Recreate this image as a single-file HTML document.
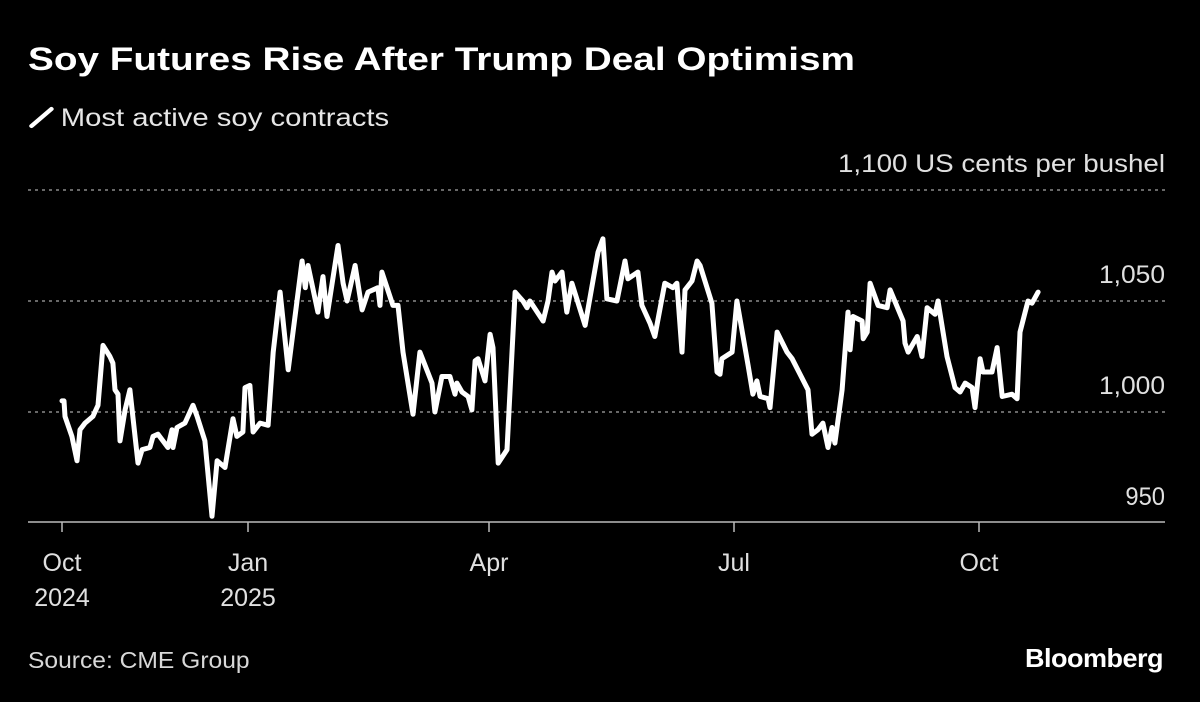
<!DOCTYPE html>
<html><head><meta charset="utf-8">
<style>
html,body{margin:0;padding:0;background:#000;}
body{width:1200px;height:702px;overflow:hidden;position:relative;font-family:"Liberation Sans","DejaVu Sans",sans-serif;color:#fff;}
.t{position:absolute;white-space:nowrap;transform-origin:0 0;}
</style></head><body>
<div class="t" style="left:28px;top:41px;font-size:32px;font-weight:bold;transform:scaleX(1.21);">Soy Futures Rise After Trump Deal Optimism</div>
<div class="t" style="left:28px;top:104px;font-size:25px;color:#e6e6e6;transform:scaleX(1.17);">
<svg width="24" height="26" style="vertical-align:-4px;margin-right:4px"><line x1="3" y1="22" x2="20" y2="5" stroke="#fff" stroke-width="4" stroke-linecap="round"/></svg>Most active soy contracts</div>
<svg id="chart" width="1200" height="702" style="position:absolute;left:0;top:0"></svg>
<div class="t" style="left:28px;top:647px;font-size:23px;color:#d8d8d8;transform:scaleX(1.07);">Source: CME Group</div>
<div class="t" style="left:1025px;top:643px;font-size:26px;font-weight:bold;letter-spacing:-0.5px;transform:scaleX(1.04);">Bloomberg</div>
<script>
const dayOffsets=[0,1,1.5,4.9,7.4,8.9,11.4,15.3,17.8,20.3,23.7,25.2,26.2,27.7,28.7,31.2,33.6,37.6,39.6,43.5,45,47.5,52.4,54.4,54.9,56.9,60.8,64.8,66.8,70.7,74.2,76.7,80.6,84.6,86.5,89.5,90.5,92.7,93.9,96.5,99.5,101.4,104,107,112.2,113.4,114.4,118.1,120,121.5,125.6,127.5,129,132,134.6,136.8,140.5,141.3,142,146.1,148,149.9,153.6,156.2,160.7,161.8,164.4,167.4,169.3,170,171.9,174.2,175.6,176.8,177.9,180.5,182.4,183.5,185.4,188.7,191.7,194.6,196.1,197.2,202.1,203.9,205.4,206.5,209.1,210.9,212.8,217.7,222.5,224.3,225.8,229.5,232.5,233.6,237.3,238.8,241.8,243.6,247.3,250.3,251.8,253.7,254.8,257.4,259.3,260.4,264.8,266.7,267.8,268.5,272.3,274.1,278.3,280.1,281.6,282.8,285.8,286.5,289.2,292.9,294.8,300.8,302.3,304.5,306.4,308.3,309.8,310.9,313.6,315.8,316.6,317.7,321.1,321.5,323,324.1,327.1,330.5,331.6,336.5,337.2,338.4,341.8,343.6,345.5,348.5,349.6,353,356,357.9,359.8,362.4,363.5,365.4,366.5,369.9,371.8,373.7,377.4,379.3,380.4,383.4,384.9,387.2];
const prices=[1005,1005,998,989,978,992,995,998,1003,1030,1025,1022,1010,1008,987,1001,1010,977,983,984,989,990,984,992,984,993,995,1003,998,987,953,978,975,997,989,991,1011,1012,991,995,994,1027,1054,1019,1068,1056,1066,1045,1061,1043,1075,1058,1050,1066,1046,1054,1056,1048,1063,1048,1048,1027,999,1027,1013,1000,1016,1016,1008,1013,1009,1007,1001,1023,1024,1014,1035,1029,977,983,1054,1050,1047,1050,1041,1050,1063,1059,1063,1045,1058,1039,1072,1078,1051,1050,1068,1060,1063,1048,1040,1034,1058,1056,1058,1027,1055,1059,1068,1066,1049,1018,1017,1024,1027,1050,1021,1008,1014,1007,1006,1002,1036,1027,1024,1010,990,992,995,984,993,986,1010,1045,1028,1043,1041,1033,1036,1058,1048,1047,1055,1041,1031,1027,1034,1025,1047,1044,1050,1025,1011,1009,1013,1011,1002,1024,1018,1018,1029,1007,1008,1006,1036,1050,1049,1054];
const tickDays=[0,92,182,273,365];
const tickMonths=["Oct","Jan","Apr","Jul","Oct"];
const tickYears=["2024","2025","","",""];
const yTicks=[950,1000,1050,1100];
const yTickLabels=["950","1,000","1,050","1,100 US cents per bushel"];

const NS="http://www.w3.org/2000/svg";
const svg=document.getElementById('chart');
const tickPx=[62,248,489,734,979];
function xs(d){
  for(let i=0;i<tickDays.length-1;i++){
    if(d<=tickDays[i+1]||i===tickDays.length-2){
      return tickPx[i]+(d-tickDays[i])*(tickPx[i+1]-tickPx[i])/(tickDays[i+1]-tickDays[i]);
    }
  }
}
function ys(v){return 523-(v-950)*(333/150);}
function mk(tag,attrs){const e=document.createElementNS(NS,tag);for(const k in attrs)e.setAttribute(k,attrs[k]);svg.appendChild(e);return e;}
function tw(s){return s.length>10?327:s.length*13.2;}

yTicks.forEach((v,i)=>{
  const y=ys(v);
  if(v!==950){
    const g=mk('line',{x1:28,x2:1165,y1:y,y2:y,stroke:'#8a8a8a','stroke-width':1.5,'stroke-dasharray':'3,4'});
    
    
  }
  const t=mk('text',{x:1165,y:y-18,'text-anchor':'end','font-size':25,fill:'#e0e0e0','font-family':'Liberation Sans, sans-serif',textLength:tw(yTickLabels[i]),lengthAdjust:'spacingAndGlyphs'});
  t.textContent=yTickLabels[i];
  
  
});
const ax=mk('line',{x1:28,x2:1165,y1:522,y2:522,stroke:'#bbb','stroke-width':1.5});


tickDays.forEach((d,i)=>{
  const x=xs(d);
  const tk=mk('line',{x1:x,x2:x,y1:522,y2:532,stroke:'#bbb','stroke-width':1.5});
  
  
  const t=mk('text',{x:x,y:571,'text-anchor':'middle','font-size':25,fill:'#e0e0e0','font-family':'Liberation Sans, sans-serif'});
  t.textContent=tickMonths[i];
  
  
  if(tickYears[i]){
    const t2=mk('text',{x:x,y:606,'text-anchor':'middle','font-size':25,fill:'#e0e0e0','font-family':'Liberation Sans, sans-serif'});
    t2.textContent=tickYears[i];
    
    
  }
});
const pts=dayOffsets.map((d,i)=>xs(d).toFixed(1)+','+ys(prices[i]).toFixed(1)).join(' ');
const pl=mk('polyline',{points:pts,fill:'none',stroke:'#fff','stroke-width':5,'stroke-linejoin':'round','stroke-linecap':'round'});


</script>
</body></html>
